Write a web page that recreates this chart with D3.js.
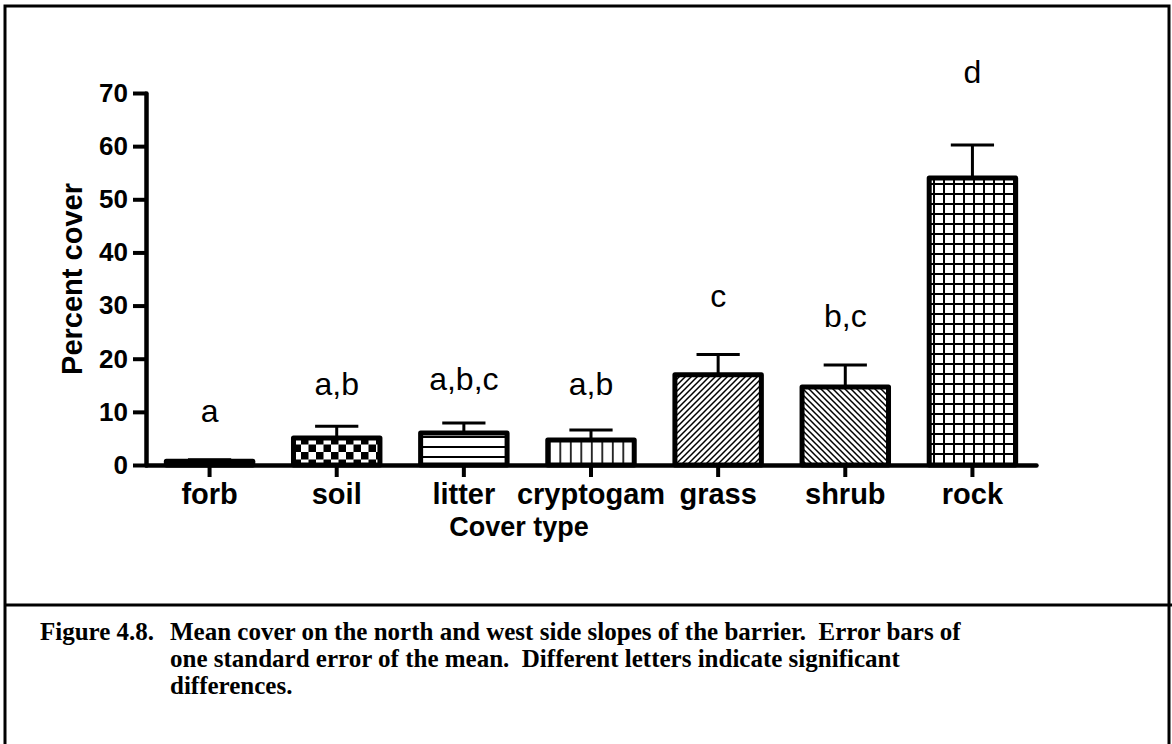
<!DOCTYPE html>
<html>
<head>
<meta charset="utf-8">
<script src="https://cdn.jsdelivr.net/npm/d3@7"></script>
<style>
body { margin: 0; background: #fff; }
</style>
</head>
<body>
<div id="chart"></div>
<script>
// data
var categories = ["forb", "soil", "litter", "cryptogam", "grass", "shrub", "rock"]
var means = [0.7, 5.1, 6.0, 4.7, 17.0, 14.7, 54.0]
var sems = [0.3, 2.2, 1.9, 1.9, 3.8, 4.1, 6.2]
var letters = ["a", "a,b", "a,b,c", "a,b", "c", "b,c", "d"]
var letterLevels = [8.1, 13.2, 14.1, 13.2, 29.7, 26.0, 71.9]
var yTicks = [0, 10, 20, 30, 40, 50, 60, 70]
var figLabel = "Figure 4.8."
var captionLines = [
  "Mean cover on the north and west side slopes of the barrier.  Error bars of",
  "one standard error of the mean.  Different letters indicate significant",
  "differences."
]

var W = 1172, H = 744
var svg = d3.select("#chart").append("svg")
  .attr("width", W).attr("height", H)
  .style("background", "#fff")

var sans = "Arial, 'Liberation Sans', sans-serif"
var serif = "'Times New Roman', 'Liberation Serif', serif"

// frame + caption separator
svg.append("rect").attr("x", 5).attr("y", 6).attr("width", 1164).attr("height", 800)
  .attr("fill", "none").attr("stroke", "#000").attr("stroke-width", 3)
svg.append("line").attr("x1", 5).attr("x2", W).attr("y1", 605).attr("y2", 605)
  .attr("stroke", "#000").attr("stroke-width", 3)

// fill patterns
var defs = svg.append("defs")
function pat(id, w, h) {
  return defs.append("pattern").attr("id", id).attr("patternUnits", "userSpaceOnUse")
    .attr("width", w).attr("height", h)
}
var p = pat("p-forb", 4, 4)
p.append("rect").attr("width", 4).attr("height", 4).attr("fill", "#000")

p = pat("p-soil", 15, 15).attr("x", 1).attr("y", 2)
p.append("rect").attr("width", 15).attr("height", 15).attr("fill", "#fff")
p.append("rect").attr("width", 7.5).attr("height", 7.5).attr("fill", "#000")
p.append("rect").attr("x", 7.5).attr("y", 7.5).attr("width", 7.5).attr("height", 7.5).attr("fill", "#000")

p = pat("p-litter", 10, 10).attr("y", 2)
p.append("rect").attr("width", 10).attr("height", 10).attr("fill", "#fff")
p.append("rect").attr("y", 4).attr("width", 10).attr("height", 2).attr("fill", "#000")

p = pat("p-cryptogam", 10.5, 10).attr("x", 0)
p.append("rect").attr("width", 10.5).attr("height", 10).attr("fill", "#fff")
p.append("rect").attr("x", 3).attr("width", 1.6).attr("height", 10).attr("fill", "#000")

p = pat("p-grass", 6, 6)
p.append("rect").attr("width", 6).attr("height", 6).attr("fill", "#fff")
p.append("path").attr("d", "M-1,1 L1,-1 M0,6 L6,0 M5,7 L7,5")
  .attr("stroke", "#000").attr("stroke-width", 1.5)

p = pat("p-shrub", 6, 6)
p.append("rect").attr("width", 6).attr("height", 6).attr("fill", "#fff")
p.append("path").attr("d", "M-1,5 L1,7 M0,0 L6,6 M5,-1 L7,1")
  .attr("stroke", "#000").attr("stroke-width", 1.5)

p = pat("p-rock", 10, 10)
p.append("rect").attr("width", 10).attr("height", 10).attr("fill", "#fff")
p.append("path").attr("d", "M4,0 V10 M0,4 H10")
  .attr("stroke", "#000").attr("stroke-width", 2)

// scales
var x = d3.scaleBand().domain(categories).range([146, 1036]).paddingInner(0.32).paddingOuter(0.16)
var y = d3.scaleLinear().domain([0, 70]).range([465, 93])

var rows = categories.map(function(c, i) {
  return {cat: c, mean: means[i], se: sems[i], letter: letters[i], ly: letterLevels[i]}
})

// bars
svg.append("g").selectAll("rect")
  .data(rows).enter().append("rect")
  .attr("x", d => x(d.cat))
  .attr("y", d => y(d.mean))
  .attr("width", x.bandwidth())
  .attr("height", d => y(0) - y(d.mean))
  .attr("fill", d => "url(#p-" + d.cat + ")")
  .attr("stroke", "#000").attr("stroke-width", 5)
  .attr("stroke-linejoin", "round")

// error bars (upper only)
var eb = svg.append("g").attr("stroke", "#000").attr("stroke-width", 3)
eb.selectAll(".stem").data(rows).enter().append("line")
  .attr("x1", d => x(d.cat) + x.bandwidth() / 2).attr("x2", d => x(d.cat) + x.bandwidth() / 2)
  .attr("y1", d => y(d.mean)).attr("y2", d => y(d.mean + d.se))
eb.selectAll(".cap").data(rows).enter().append("line")
  .attr("x1", d => x(d.cat) + x.bandwidth() / 4).attr("x2", d => x(d.cat) + x.bandwidth() * 3 / 4)
  .attr("y1", d => y(d.mean + d.se)).attr("y2", d => y(d.mean + d.se))

// significance letters
svg.append("g").selectAll("text").data(rows).enter().append("text")
  .attr("x", d => x(d.cat) + x.bandwidth() / 2)
  .attr("y", d => y(d.ly))
  .attr("text-anchor", "middle")
  .style("font-family", sans).style("font-size", "32px")
  .text(d => d.letter)

// axes
var yAxis = svg.append("g").attr("transform", "translate(146,0)")
  .call(d3.axisLeft(y).tickValues(yTicks).tickSize(13).tickSizeOuter(0).tickPadding(5))
var xAxis = svg.append("g").attr("transform", "translate(0,465)")
  .call(d3.axisBottom(x).tickSize(12).tickSizeOuter(0).tickPadding(6))

;[yAxis, xAxis].forEach(function(g) {
  g.select(".domain").attr("stroke-width", 4.5).attr("stroke-linecap", "round")
  g.selectAll(".tick line").attr("stroke-width", 4)
  g.selectAll(".tick text").attr("fill", "#000")
    .style("font-family", sans).style("font-weight", "bold").style("font-size", "26px")
})
xAxis.selectAll(".tick text").style("font-size", "29px")

// axis titles
svg.append("text").attr("transform", "translate(82,279) rotate(-90)")
  .attr("text-anchor", "middle")
  .style("font-family", sans).style("font-weight", "bold").style("font-size", "29px")
  .text("Percent cover")
svg.append("text").attr("x", 519).attr("y", 536).attr("text-anchor", "middle")
  .style("font-family", sans).style("font-weight", "bold").style("font-size", "27px")
  .text("Cover type")

// caption (keep the double spaces after full stops)
var cap = svg.append("g").style("font-family", serif).style("font-weight", "bold")
  .style("font-size", "25px")
cap.append("text").attr("x", 40).attr("y", 640).text(figLabel)
cap.selectAll(".ln").data(captionLines).enter().append("text")
  .attr("x", 170).attr("y", (d, i) => 640 + i * 27)
  .text(d => d.replace(/  /g, "\u00a0 "))
</script>
</body>
</html>
